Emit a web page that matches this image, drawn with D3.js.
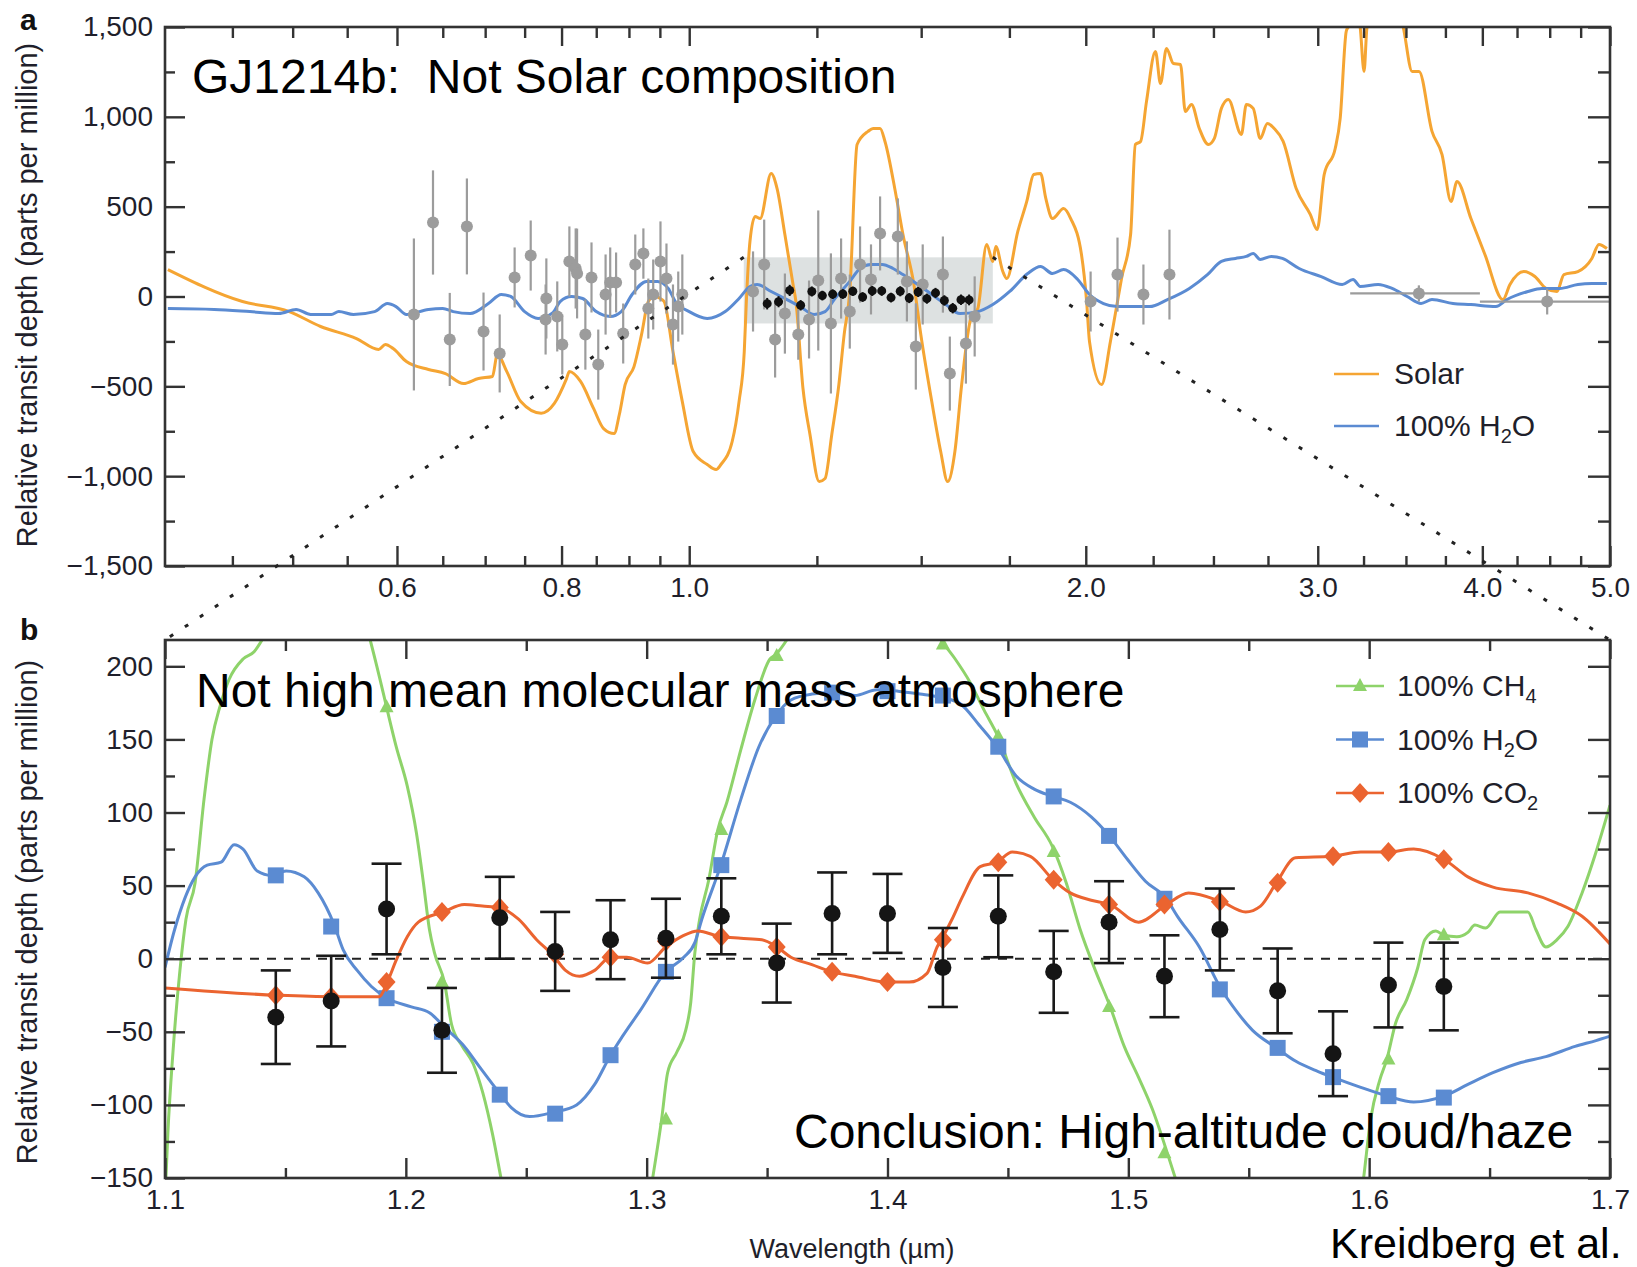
<!DOCTYPE html>
<html>
<head>
<meta charset="utf-8">
<script src="https://cdn.jsdelivr.net/npm/d3@7"></script>
<style>
  body { margin: 0; background: #fff; }
  svg text { font-family: "Liberation Sans", Arial, Helvetica, sans-serif; }
</style>
</head>
<body>
<div id="chart"></div>
<script>
// ---------- panel a : broad spectrum ----------
const topXMajor = [0.6, 0.8, 1.0, 2.0, 3.0, 4.0, 5.0];
const topXMinor = [0.45, 0.5, 0.55, 0.65, 0.7, 0.75, 0.85, 0.9, 0.95, 1.25, 1.5, 1.75,
                   2.25, 2.5, 2.75, 3.25, 3.5, 3.75, 4.25, 4.5, 4.75];
const topYMajor = [-1500, -1000, -500, 0, 500, 1000, 1500];
const topYMinor = [-1250, -750, -250, 250, 750, 1250];

// solar composition model [wavelength µm, ppm]
const solarModel = [[0.402,150],[0.458,-28],[0.497,-84],[0.525,-167],[0.559,-234],[0.581,-295],[0.588,-267],
  [0.596,-290],[0.610,-362],[0.634,-406],[0.653,-429],[0.674,-484],[0.692,-456],[0.709,-445],[0.715,-323],
  [0.727,-418],[0.745,-585],[0.772,-650],[0.790,-595],[0.807,-457],[0.811,-418],[0.827,-473],[0.846,-623],
  [0.861,-735],[0.877,-763],[0.885,-657],[0.894,-490],[0.908,-390],[0.920,-212],[0.931,-28],[0.942,5],
  [0.950,-10],[0.957,-28],[0.972,-306],[0.988,-585],[1.007,-863],[1.032,-935],[1.048,-963],[1.057,-935],
  [1.078,-807],[1.091,-585],[1.101,-306],[1.105,-28],[1.112,306],[1.122,445],[1.132,434],[1.154,685],
  [1.166,601],[1.182,345],[1.199,67],[1.205,-28],[1.220,-512],[1.235,-768],[1.255,-1030],[1.268,-1013],
  [1.283,-768],[1.299,-490],[1.311,-212],[1.324,28],[1.341,846],[1.367,919],[1.379,935],[1.396,935],
  [1.408,863],[1.435,568],[1.453,345],[1.481,67],[1.499,-212],[1.528,-585],[1.552,-863],[1.571,-1030],
  [1.591,-863],[1.610,-490],[1.636,-122],[1.656,-67],[1.682,290],[1.700,195],[1.709,278],[1.730,139],
  [1.742,100],[1.776,362],[1.804,529],[1.826,679],[1.848,685],[1.865,546],[1.887,434],[1.924,490],
  [1.948,434],[1.985,234],[2.003,-28],[2.013,-250],[2.056,-490],[2.088,-250],[2.114,-28],[2.129,100],
  [2.163,345],[2.181,846],[2.201,863],[2.224,1086],[2.259,1364],[2.279,1186],[2.303,1381],[2.331,1297],
  [2.360,1292],[2.380,1030],[2.406,1069],[2.439,935],[2.478,846],[2.504,880],[2.535,1047],[2.566,1097],
  [2.625,902],[2.648,1069],[2.680,1047],[2.713,880],[2.747,963],[2.780,935],[2.824,863],[2.889,601],
  [2.961,457],[2.997,373],[3.034,679],[3.093,824],[3.120,991],[3.153,1475],[3.164,1500],[3.200,1650],
  [3.231,1500],[3.253,1253],[3.270,1500],[3.380,1700],[3.483,1500],[3.538,1253],[3.581,1253],[3.663,919],
  [3.728,790],[3.787,529],[3.827,640],[3.921,434],[4.018,234],[4.147,-17],[4.198,67],[4.301,139],
  [4.385,111],[4.470,45],[4.557,28],[4.613,122],[4.727,139],[4.844,212],[4.904,290],[4.973,267]];

// 100% water model, broad range
const waterBroad = [[0.402,-67],[0.436,-72],[0.464,-84],[0.488,-95],[0.503,-72],[0.516,-100],[0.535,-100],
  [0.542,-84],[0.556,-100],[0.577,-84],[0.590,-39],[0.599,-56],[0.610,-100],[0.634,-72],[0.650,-67],
  [0.662,-84],[0.682,-95],[0.704,-39],[0.720,11],[0.732,0],[0.750,-84],[0.768,-122],[0.788,-90],[0.798,-28],
  [0.814,0],[0.830,-11],[0.850,-84],[0.871,-111],[0.888,-84],[0.905,11],[0.928,84],[0.946,84],[0.964,45],
  [0.976,-28],[1.000,-84],[1.032,-122],[1.065,-84],[1.091,-11],[1.112,56],[1.126,67],[1.154,28],[1.182,-11],
  [1.214,-56],[1.244,-100],[1.268,-84],[1.290,-11],[1.324,84],[1.348,156],[1.374,178],[1.401,178],
  [1.428,156],[1.453,122],[1.491,67],[1.528,11],[1.566,-45],[1.605,-95],[1.656,-84],[1.700,-45],[1.751,28],
  [1.807,128],[1.848,167],[1.887,128],[1.924,150],[1.972,95],[2.013,11],[2.063,-39],[2.114,-56],[2.236,-56],
  [2.307,-17],[2.397,45],[2.474,122],[2.535,195],[2.598,212],[2.648,223],[2.680,239],[2.713,206],
  [2.766,223],[2.820,212],[2.904,156],[3.018,111],[3.131,67],[3.191,95],[3.231,56],[3.334,67],[3.416,45],
  [3.507,0],[3.594,-39],[3.663,-17],[3.800,-39],[3.921,-45],[4.096,-56],[4.176,-17],[4.332,28],[4.439,45],
  [4.580,45],[4.727,67],[4.844,72],[4.973,72]];

// earlier measurements (grey)
const priorWl = [0.618,0.639,0.658,0.678,0.698,0.718,0.737,0.758,0.778,0.779,0.794,0.801,0.811,0.820,0.822,
  0.834,0.843,0.853,0.864,0.871,0.880,0.891,0.910,0.923,0.931,0.939,0.951,0.961,0.972,0.981,0.988,
  1.118,1.140,1.162,1.182,1.210,1.233,1.253,1.281,1.304,1.324,1.348,1.374,1.396,1.440,1.463,1.486,1.504,
  1.558,1.577,1.622,1.647,2.017,2.114,2.212,2.315];
const priorDepth = [-100,412,-239,390,-195,-317,106,228,-128,-11,-111,-267,195,156,128,
  -212,106,-379,11,78,78,-206,178,239,-67,11,195,100,-156,-56,11,
  28,178,-239,-95,-212,-128,89,-150,100,-84,178,95,351,334,84,-278,67,
  122,-429,-262,-111,-28,122,11,122];
const priorErr = [423,290,259,267,217,217,167,195,195,223,195,167,195,223,250,
  195,195,195,223,195,167,167,167,140,167,195,223,195,223,195,223,
  223,250,212,223,140,217,390,390,223,206,212,195,206,212,223,240,223,
  212,206,223,223,167,206,167,250];

// broadband (Spitzer) points with wavelength ranges
const bandWl = [3.58, 4.48];
const bandLo = [3.175, 3.983];
const bandHi = [3.983, 5.0];
const bandDepth = [17, -28];
const bandErr = [45, 72];

// zoomed region shown in panel b
const zoomWl = [1.1, 1.7];
const zoomDepth = [-150, 218];

// ---------- panel b : WFC3 spectrum ----------
const botXMajor = [1.1, 1.2, 1.3, 1.4, 1.5, 1.6, 1.7];
const botXMinor = [1.15, 1.25, 1.35, 1.45, 1.55, 1.65];
const botYMajor = [-150, -100, -50, 0, 50, 100, 150, 200];
const botYMinor = [-125, -75, -25, 25, 75, 125];

const obsWl = [1.146,1.169,1.192,1.215,1.239,1.262,1.285,1.308,1.331,1.354,1.377,1.400,1.423,
  1.446,1.469,1.492,1.515,1.538,1.562,1.585,1.608,1.631];
const obsDepth = [-40,-29,34,-49,28,5,13,14,29,-3,31,31,-6,29,-9,25,-12,20,-22,-65,-18,-19];
const obsErr = [32,31,31,29,28,27,27,27,26,27,28,27,27,28,28,28,28,28,29,29,29,30];

const ch4Model = [[1.100,-165],[1.1012,-119],[1.1033,-64],[1.1062,-8],[1.1087,27],[1.1125,52],[1.1162,109],
  [1.1195,150],[1.1229,173],[1.1266,191],[1.1324,205],[1.1370,210],[1.1403,218],[1.163,320],[1.1852,218],
  [1.1890,193],[1.1923,170],[1.1960,145],[1.2006,118],[1.2044,86],[1.2073,52],[1.2098,20],[1.2119,4],
  [1.2160,-16],[1.2190,-45],[1.2235,-60],[1.2280,-72],[1.2320,-92],[1.2360,-120],[1.2395,-150],[1.271,-420],
  [1.3025,-150],[1.3062,-110],[1.3087,-78],[1.3125,-64],[1.3162,-49],[1.3183,-30],[1.3200,4],[1.3220,27],
  [1.3258,54],[1.3295,88],[1.3333,107],[1.3391,143],[1.3449,177],[1.3512,205],[1.3536,208],[1.3582,218],
  [1.390,330],[1.4222,218],[1.4281,205],[1.4343,189],[1.4401,170],[1.4459,152],[1.4534,120],[1.4609,97],
  [1.4684,77],[1.4742,52],[1.4800,20],[1.4863,-8],[1.4925,-33],[1.4983,-60],[1.5042,-81],[1.5100,-103],
  [1.5162,-133],[1.5195,-150],[1.558,-420],[1.5977,-150],[1.6006,-110],[1.6044,-83],[1.6073,-69],
  [1.6110,-44],[1.6156,-28],[1.6202,-6],[1.6231,13],[1.6277,19],[1.6310,16],[1.6364,15],[1.6410,18],
  [1.6439,23],[1.6484,21],[1.6543,32],[1.6572,32],[1.6659,32],[1.6692,20],[1.6734,8],[1.6780,13],
  [1.6825,22],[1.6884,45],[1.6942,73],[1.7,105]];
const ch4Binned = [null,null,172,-16,null,null,null,-110,88,207,null,null,215,152,73,-33,-133,null,null,null,-69,16];

const h2oModel = [[1.100,-6],[1.104,20],[1.1125,56],[1.1175,64],[1.1233,66],[1.1287,78],[1.1324,75],
  [1.1383,60],[1.1441,57],[1.1503,60],[1.1578,56],[1.1636,45],[1.1703,23],[1.1740,6],[1.1798,-8],
  [1.1857,-19],[1.1923,-27],[1.2023,-33],[1.2098,-37],[1.2168,-48],[1.2243,-60],[1.2306,-74],[1.2389,-92],
  [1.2439,-102],[1.2514,-108],[1.2613,-105],[1.2709,-100],[1.2784,-86],[1.2850,-66],[1.2900,-53],
  [1.2975,-35],[1.3079,-9],[1.3154,1],[1.3200,11],[1.3229,27],[1.3308,64],[1.3391,109],[1.3466,145],
  [1.3536,166],[1.3599,177],[1.3686,181],[1.3769,182],[1.3865,180],[1.3956,184],[1.4044,183],[1.4135,181],
  [1.4214,179],[1.4297,175],[1.4385,159],[1.4459,144],[1.4534,125],[1.4609,116],[1.4688,111],[1.4759,107],
  [1.4846,97],[1.4921,84],[1.4996,68],[1.5071,53],[1.5158,41],[1.5204,29],[1.5295,8],[1.5383,-20],
  [1.5445,-35],[1.5516,-49],[1.5615,-61],[1.5694,-70],[1.5786,-77],[1.5848,-81],[1.5965,-88],[1.6077,-94],
  [1.6185,-98],[1.6310,-94],[1.6410,-86],[1.6514,-78],[1.6630,-71],[1.6734,-67],[1.6855,-60],[1.6942,-56],
  [1.7,-53]];
const h2oBinned = [57,22,-27,-50,-93,-106,-66,-9,64,166,182,183,180,145,111,84,41,-21,-61,-81,-94,-95];

const co2Model = [[1.100,-20],[1.1466,-25],[1.1694,-26],[1.1890,-26],[1.1923,-16],[1.1960,-1],[1.2006,15],
  [1.2052,25],[1.2156,32],[1.2243,37],[1.2318,36],[1.2389,35],[1.2468,27],[1.2543,13],[1.2613,2],
  [1.2663,-8],[1.2721,-12],[1.2784,-8],[1.2850,1],[1.2917,1],[1.3004,-3],[1.3079,8],[1.3154,16],
  [1.3212,19],[1.3308,15],[1.3391,14],[1.3478,13],[1.3541,8],[1.3599,1],[1.3686,-4],[1.3769,-9],
  [1.3865,-12],[1.3998,-16],[1.4090,-16],[1.4164,-10],[1.4206,8],[1.4227,14],[1.4268,27],[1.4310,42],
  [1.4385,63],[1.4455,66],[1.4518,73],[1.4593,70],[1.4688,54],[1.4759,45],[1.4846,40],[1.4925,37],
  [1.5042,25],[1.5158,37],[1.5250,45],[1.5387,39],[1.5487,32],[1.5549,36],[1.5615,52],[1.5694,69],
  [1.5844,70],[1.5965,73],[1.6077,73],[1.6185,75],[1.6310,68],[1.6410,56],[1.6514,49],[1.6659,45],
  [1.6780,38],[1.6884,29],[1.7,10]];
const co2Binned = [-25,-26,-16,32,35,3,1,12,15,8,-9,-16,13,66,54,37,37,39,52,70,73,68];

const ORANGE = "#f5a533", BLUE = "#5b8bd2", GREEN = "#8ed36a", RED = "#eb6430",
      GREY = "#9c9c9c", INK = "#1f1f2b", FRAME = "#333";

const width = 1637, height = 1267;
const svg = d3.select("#chart").append("svg")
  .attr("width", width)
  .attr("height", height)
  .style("display", "block");

const pa = {left: 165, right: 1610, top: 27, bottom: 566};
const pb = {left: 165, right: 1610, top: 640, bottom: 1178};

const xA = d3.scaleLog().domain([0.4, 5.0]).range([pa.left, pa.right]);
const yA = d3.scaleLinear().domain([-1500, 1500]).range([pa.bottom, pa.top]);
const xB = d3.scaleLinear().domain([1.1, 1.7]).range([pb.left, pb.right]);
const yB = d3.scaleLinear().domain([-150, 218]).range([pb.bottom, pb.top]);

const defs = svg.append("defs");
[["clipA", pa], ["clipB", pb]].forEach(([id, p]) => {
  defs.append("clipPath").attr("id", id).append("rect")
    .attr("x", p.left).attr("y", p.top)
    .attr("width", p.right - p.left).attr("height", p.bottom - p.top);
});

function axes(x, y, p, xMaj, xMin, yMaj, yMin, xFmt, yFmt) {
  const g = svg.append("g");
  const put = (axis, tx, ty) => {
    const a = g.append("g").attr("transform", `translate(${tx},${ty})`).call(axis);
    a.select(".domain").remove();
    a.selectAll("line").attr("stroke", FRAME).attr("stroke-width", 2.4);
    a.selectAll("text").attr("fill", INK).style("font-size", "28px");
  };
  put(d3.axisBottom(x).tickValues(xMaj).tickSize(-20).tickPadding(11).tickFormat(xFmt), 0, p.bottom);
  put(d3.axisBottom(x).tickValues(xMin).tickSize(-10).tickFormat(""), 0, p.bottom);
  put(d3.axisTop(x).tickValues(xMaj).tickSize(-19).tickFormat(""), 0, p.top);
  put(d3.axisTop(x).tickValues(xMin).tickSize(-11).tickFormat(""), 0, p.top);
  put(d3.axisLeft(y).tickValues(yMaj).tickSize(-20).tickPadding(12).tickFormat(yFmt), p.left, 0);
  put(d3.axisLeft(y).tickValues(yMin).tickSize(-10).tickFormat(""), p.left, 0);
  put(d3.axisRight(y).tickValues(yMaj).tickSize(-22).tickFormat(""), p.right, 0);
  put(d3.axisRight(y).tickValues(yMin).tickSize(-12).tickFormat(""), p.right, 0);
  g.append("rect")
    .attr("x", p.left).attr("y", p.top)
    .attr("width", p.right - p.left).attr("height", p.bottom - p.top)
    .attr("fill", "none").attr("stroke", FRAME).attr("stroke-width", 2.6);
}

// ===== panel a =====
const gA = svg.append("g").attr("clip-path", "url(#clipA)");

gA.append("rect")
  .attr("x", xA(zoomWl[0])).attr("y", yA(zoomDepth[1]))
  .attr("width", xA(zoomWl[1]) - xA(zoomWl[0]))
  .attr("height", yA(zoomDepth[0]) - yA(zoomDepth[1]))
  .attr("fill", "#dde1e1");

const lineA = d3.line().x(d => xA(d[0])).y(d => yA(d[1])).curve(d3.curveMonotoneX);
gA.append("path").datum(solarModel).attr("d", lineA)
  .attr("fill", "none").attr("stroke", ORANGE).attr("stroke-width", 3).attr("stroke-linejoin", "round");
gA.append("path").datum(waterBroad).attr("d", lineA)
  .attr("fill", "none").attr("stroke", BLUE).attr("stroke-width", 3);

const prior = priorWl.map((w, i) => ({w, v: priorDepth[i], e: priorErr[i]}));
gA.selectAll(".perr").data(prior).join("line")
  .attr("x1", d => xA(d.w)).attr("x2", d => xA(d.w))
  .attr("y1", d => yA(d.v + d.e)).attr("y2", d => yA(d.v - d.e))
  .attr("stroke", GREY).attr("stroke-width", 2.2);
gA.selectAll(".pdot").data(prior).join("circle")
  .attr("cx", d => xA(d.w)).attr("cy", d => yA(d.v)).attr("r", 6)
  .attr("fill", GREY);

const band = bandWl.map((w, i) => ({w, lo: bandLo[i], hi: bandHi[i], v: bandDepth[i], e: bandErr[i]}));
gA.selectAll(".bx").data(band).join("line")
  .attr("x1", d => xA(d.lo)).attr("x2", d => xA(d.hi))
  .attr("y1", d => yA(d.v)).attr("y2", d => yA(d.v))
  .attr("stroke", GREY).attr("stroke-width", 2.2);
gA.selectAll(".by").data(band).join("line")
  .attr("x1", d => xA(d.w)).attr("x2", d => xA(d.w))
  .attr("y1", d => yA(d.v + d.e)).attr("y2", d => yA(d.v - d.e))
  .attr("stroke", GREY).attr("stroke-width", 2.2);
gA.selectAll(".bdot").data(band).join("circle")
  .attr("cx", d => xA(d.w)).attr("cy", d => yA(d.v)).attr("r", 6).attr("fill", GREY);

const obs = obsWl.map((w, i) => ({w, v: obsDepth[i], e: obsErr[i]}));
gA.selectAll(".oerrA").data(obs).join("line")
  .attr("x1", d => xA(d.w)).attr("x2", d => xA(d.w))
  .attr("y1", d => yA(d.v + d.e)).attr("y2", d => yA(d.v - d.e))
  .attr("stroke", "#111").attr("stroke-width", 2);
gA.selectAll(".odotA").data(obs).join("circle")
  .attr("cx", d => xA(d.w)).attr("cy", d => yA(d.v)).attr("r", 4.5).attr("fill", "#111");

axes(xA, yA, pa, topXMajor, topXMinor, topYMajor, topYMinor, d3.format(".1f"), d3.format(","));

// legend a
const legA = [{name: "Solar", color: ORANGE, sub: null}, {name: "100% H", color: BLUE, sub: "2", tail: "O"}];
legA.forEach((d, i) => {
  const cy = 374 + i * 52;
  svg.append("line").attr("x1", 1334).attr("x2", 1379).attr("y1", cy).attr("y2", cy)
    .attr("stroke", d.color).attr("stroke-width", 2.6);
  const t = svg.append("text").attr("x", 1394).attr("y", cy + 10).attr("fill", INK)
    .style("font-size", "30px").text(d.name);
  if (d.sub) {
    t.append("tspan").attr("dy", 7).style("font-size", "20px").text(d.sub);
    t.append("tspan").attr("dy", -7).text(d.tail);
  }
});

// ===== panel b =====
const gB = svg.append("g").attr("clip-path", "url(#clipB)");

gB.append("line")
  .attr("x1", pb.left).attr("x2", pb.right).attr("y1", yB(0)).attr("y2", yB(0))
  .attr("stroke", "#222").attr("stroke-width", 2).attr("stroke-dasharray", "9,8");

const lineB = d3.line().x(d => xB(d[0])).y(d => yB(d[1])).curve(d3.curveMonotoneX);
const models = [
  {data: ch4Model, binned: ch4Binned, color: GREEN, shape: "M0,-8L7,5L-7,5Z"},
  {data: h2oModel, binned: h2oBinned, color: BLUE, shape: "M-8,-8H8V8H-8Z"},
  {data: co2Model, binned: co2Binned, color: RED, shape: "M0,-10L9,0L0,10L-9,0Z"}
];
models.forEach(m => {
  gB.append("path").datum(m.data).attr("d", lineB)
    .attr("fill", "none").attr("stroke", m.color).attr("stroke-width", 3);
  const pts = obsWl.map((w, i) => ({w, v: m.binned[i]})).filter(d => d.v !== null);
  gB.selectAll(null).data(pts).join("path")
    .attr("d", m.shape)
    .attr("transform", d => `translate(${xB(d.w)},${yB(d.v)})`)
    .attr("fill", m.color);
});

const cap = 15;
const eb = gB.append("g").attr("stroke", "#1a1a1a").attr("stroke-width", 2.6);
eb.selectAll(".ev").data(obs).join("line")
  .attr("x1", d => xB(d.w)).attr("x2", d => xB(d.w))
  .attr("y1", d => yB(d.v + d.e)).attr("y2", d => yB(d.v - d.e));
eb.selectAll(".et").data(obs).join("line")
  .attr("x1", d => xB(d.w) - cap).attr("x2", d => xB(d.w) + cap)
  .attr("y1", d => yB(d.v + d.e)).attr("y2", d => yB(d.v + d.e));
eb.selectAll(".eb").data(obs).join("line")
  .attr("x1", d => xB(d.w) - cap).attr("x2", d => xB(d.w) + cap)
  .attr("y1", d => yB(d.v - d.e)).attr("y2", d => yB(d.v - d.e));
gB.selectAll(".odotB").data(obs).join("circle")
  .attr("cx", d => xB(d.w)).attr("cy", d => yB(d.v)).attr("r", 8.5).attr("fill", "#151515");

axes(xB, yB, pb, botXMajor, botXMinor, botYMajor, botYMinor, d3.format(".1f"), d3.format("d"));

// legend b
const legB = [
  {label: "100% CH", sub: "4", tail: "", color: GREEN, shape: "M0,-8L7,5L-7,5Z"},
  {label: "100% H", sub: "2", tail: "O", color: BLUE, shape: "M-8,-8H8V8H-8Z"},
  {label: "100% CO", sub: "2", tail: "", color: RED, shape: "M0,-10L9,0L0,10L-9,0Z"}
];
legB.forEach((d, i) => {
  const cy = 686 + i * 53.5;
  svg.append("line").attr("x1", 1336).attr("x2", 1384).attr("y1", cy).attr("y2", cy)
    .attr("stroke", d.color).attr("stroke-width", 2.6);
  svg.append("path").attr("d", d.shape).attr("transform", `translate(1360,${cy})`).attr("fill", d.color);
  const t = svg.append("text").attr("x", 1397).attr("y", cy + 10).attr("fill", INK)
    .style("font-size", "30px").text(d.label);
  t.append("tspan").attr("dy", 7).style("font-size", "20px").text(d.sub);
  if (d.tail) t.append("tspan").attr("dy", -7).text(d.tail);
});

// dotted connectors from the zoom box in panel a to panel b
svg.selectAll(".conn").data(zoomWl).join("line")
  .attr("x1", d => xA(d)).attr("y1", yA(zoomDepth[1]))
  .attr("x2", d => xB(d)).attr("y2", yB(zoomDepth[1]))
  .attr("stroke", "#222").attr("stroke-width", 3).attr("stroke-dasharray", "4,14");

// axis titles and panel letters
[[pa, 295], [pb, 912]].forEach(([p, cy]) => {
  svg.append("text")
    .attr("transform", `translate(37,${cy}) rotate(-90)`)
    .attr("text-anchor", "middle").attr("fill", INK)
    .style("font-size", "29px")
    .text("Relative transit depth (parts per million)");
});
svg.append("text").attr("x", 852).attr("y", 1258).attr("text-anchor", "middle")
  .attr("fill", INK).style("font-size", "27px").text("Wavelength (\u00b5m)");
svg.append("text").attr("x", 20).attr("y", 30).style("font-size", "30px")
  .style("font-weight", "bold").attr("fill", "#111").text("a");
svg.append("text").attr("x", 20).attr("y", 640).style("font-size", "30px")
  .style("font-weight", "bold").attr("fill", "#111").text("b");

// annotations
const notes = [
  {x: 192, y: 93, size: 48, t: "GJ1214b:  Not Solar composition"},
  {x: 196, y: 707, size: 48, t: "Not high mean molecular mass atmosphere"},
  {x: 794, y: 1148, size: 48, t: "Conclusion: High-altitude cloud/haze"},
  {x: 1330, y: 1258, size: 43, t: "Kreidberg et al."}
];
svg.selectAll(".note").data(notes).join("text")
  .attr("x", d => d.x).attr("y", d => d.y)
  .style("font-size", d => d.size + "px").style("white-space", "pre")
  .attr("fill", "#000").text(d => d.t);
</script>
</body>
</html>
